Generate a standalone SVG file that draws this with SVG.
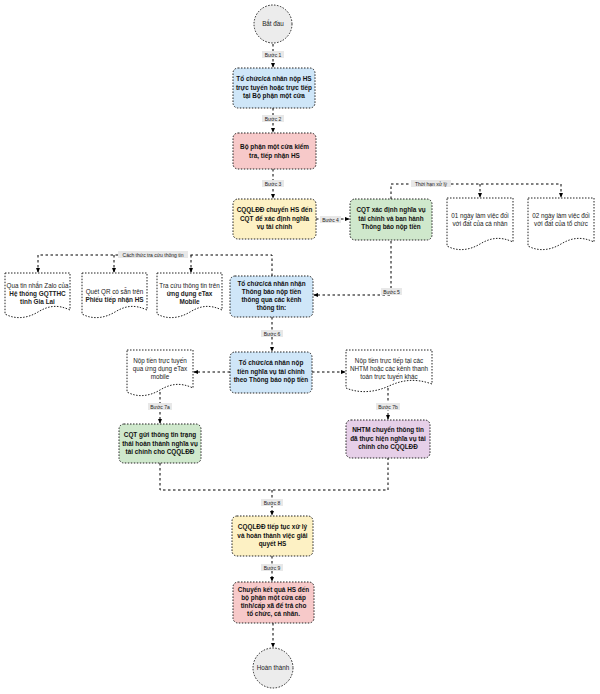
<svg xmlns="http://www.w3.org/2000/svg" width="600" height="694" viewBox="0 0 600 694">
<defs>
<marker id="ah" viewBox="0 0 6 6" refX="5" refY="3" markerWidth="5" markerHeight="5" orient="auto">
<path d="M0,0.5 L6,3 L0,5.5 Z" fill="#000"/>
</marker>
<style>
.bx{stroke:#222;stroke-width:1;stroke-dasharray:1.5,1.5}
.blue{fill:#cfe6f8}.pink{fill:#f7c9c9}.yellow{fill:#fdf1c4}.green{fill:#cfe8cc}.purple{fill:#e6cfe8}.grey{fill:#ececec}
.doc{fill:#fff;stroke:#222;stroke-width:1;stroke-dasharray:1.5,1.5}
.t{font-family:"Liberation Sans",Arial,sans-serif;font-size:6.4px;font-weight:bold;text-anchor:middle;fill:#111}
.d{font-family:"Liberation Sans",Arial,sans-serif;font-size:6.3px;text-anchor:middle;fill:#222}
.db{font-weight:bold;font-size:6.4px}
.c{fill:none;stroke:#000;stroke-width:1;stroke-dasharray:2.5,2.5}
.a{marker-end:url(#ah)}
.lb{fill:#e8e8e8}
.l{font-family:"Liberation Sans",Arial,sans-serif;font-size:5px;text-anchor:middle;fill:#222}
</style>
</defs>
<rect width="600" height="694" fill="#fff"/>

<g id="connectors">
<path class="c a" d="M273,44 V67"/>
<path class="c a" d="M273,108 V132"/>
<path class="c a" d="M273,169 V198"/>
<path class="c a" d="M316,219 H349"/>
<path class="c" d="M391,199 V184 H561"/>
<path class="c a" d="M561,184 V197"/>
<path class="c a" d="M480,184 V197"/>
<path class="c a" d="M391,241 V295 H314"/>
<path class="c" d="M272,276 V255 H38"/>
<path class="c a" d="M38,255 V272"/>
<path class="c a" d="M114,255 V272"/>
<path class="c a" d="M191,255 V272"/>
<path class="c a" d="M272,317 V351"/>
<path class="c a" d="M230,372 H194"/>
<path class="c a" d="M312,372 H345"/>
<path class="c a" d="M160,392 V423"/>
<path class="c a" d="M388,388 V419"/>
<path class="c" d="M160,463 V490 H388 V458"/>
<path class="c a" d="M272,490 V515"/>
<path class="c a" d="M272,556 V581"/>
<path class="c a" d="M273,623 V647"/>
<g id="labels">
<rect class="lb" x="262" y="51" width="22" height="7"/><text class="l" x="273" y="56.5">Bước 1</text>
<rect class="lb" x="262" y="115" width="22" height="7"/><text class="l" x="273" y="120.5">Bước 2</text>
<rect class="lb" x="262" y="180" width="22" height="7"/><text class="l" x="273" y="185.5">Bước 3</text>
<rect class="lb" x="320" y="216" width="21" height="7"/><text class="l" x="330.5" y="221.5">Bước 4</text>
<rect class="lb" x="411" y="180" width="40" height="7"/><text class="l" x="431" y="185.5">Thời hạn xử lý</text>
<rect class="lb" x="381" y="288" width="21" height="7"/><text class="l" x="391.5" y="293.5">Bước 5</text>
<rect class="lb" x="118" y="251" width="70" height="7"/><text class="l" x="153" y="256.5">Cách thức tra cứu thông tin</text>
<rect class="lb" x="261" y="330" width="22" height="7"/><text class="l" x="272" y="335.5">Bước 6</text>
<rect class="lb" x="148" y="403" width="24" height="7"/><text class="l" x="160" y="408.5">Bước 7a</text>
<rect class="lb" x="376" y="403" width="24" height="7"/><text class="l" x="388" y="408.5">Bước 7b</text>
<rect class="lb" x="261" y="499" width="22" height="7"/><text class="l" x="272" y="504.5">Bước 8</text>
<rect class="lb" x="261" y="564" width="22" height="7"/><text class="l" x="272" y="569.5">Bước 9</text>
</g>
</g>

<g id="start">
<circle class="bx grey" cx="273" cy="24" r="19"/>
<text class="d" x="273" y="26">Bắt đầu</text>
</g>
<g id="step1">
<rect class="bx blue" x="233" y="68" width="82" height="40" rx="5"/>
<text class="t" x="274" y="81">Tổ chức/cá nhân nộp HS</text>
<text class="t" x="274" y="89.5">trực tuyến hoặc trực tiếp</text>
<text class="t" x="274" y="98">tại Bộ phận một cửa</text>
</g>
<g id="step2">
<rect class="bx pink" x="233" y="133" width="83" height="36" rx="5"/>
<text class="t" x="274.5" y="149">Bộ phận một cửa kiểm</text>
<text class="t" x="274.5" y="157.5">tra, tiếp nhận HS</text>
</g>
<g id="step3">
<rect class="bx yellow" x="233" y="199" width="83" height="40" rx="5"/>
<text class="t" x="274.5" y="212">CQQLĐĐ chuyển HS đến</text>
<text class="t" x="274.5" y="220.5">CQT để xác định nghĩa</text>
<text class="t" x="274.5" y="229">vụ tài chính</text>
</g>
<g id="step4">
<rect class="bx green" x="350" y="199" width="82" height="41" rx="5"/>
<text class="t" x="391" y="212">CQT xác định nghĩa vụ</text>
<text class="t" x="391" y="220.5">tài chính và ban hành</text>
<text class="t" x="391" y="229">Thông báo nộp tiền</text>
</g>
<g id="deadline1">
<path class="doc" d="M447,198 H513 V242 C500,236 490,238 480,244 C470,250 458,252 447,246 Z"/>
<text class="d" x="480" y="218">01 ngày làm việc đối</text>
<text class="d" x="480" y="226">với đất của cá nhân</text>
</g>
<g id="deadline2">
<path class="doc" d="M528,198 H594 V242 C581,236 571,238 561,244 C551,250 539,252 528,246 Z"/>
<text class="d" x="561" y="218">02 ngày làm việc đối</text>
<text class="d" x="561" y="226">với đất của tổ chức</text>
</g>
<g id="step5">
<rect class="bx blue" x="230" y="276" width="83" height="41" rx="5"/>
<text class="t" x="271.5" y="286">Tổ chức/cá nhân nhận</text>
<text class="t" x="271.5" y="294">Thông báo nộp tiền</text>
<text class="t" x="271.5" y="302">thông qua các kênh</text>
<text class="t" x="271.5" y="310">thông tin:</text>
</g>
<g id="lookup1">
<path class="doc" d="M5,273 H70 V310 C57,304 48,306 38,312 C28,318 16,320 5,314 Z"/>
<text class="d" x="37.5" y="288">Qua tin nhắn Zalo của</text>
<text class="d db" x="37.5" y="296">Hệ thống GQTTHC</text>
<text class="d db" x="37.5" y="304">tỉnh Gia Lai</text>
</g>
<g id="lookup2">
<path class="doc" d="M82,273 H147 V310 C134,304 125,306 115,312 C105,318 93,320 82,314 Z"/>
<text class="d" x="114.5" y="294">Quét QR có sẵn trên</text>
<text class="d db" x="114.5" y="302">Phiếu tiếp nhận HS</text>
</g>
<g id="lookup3">
<path class="doc" d="M157,273 H222 V310 C209,304 200,306 190,312 C180,318 168,320 157,314 Z"/>
<text class="d" x="189.5" y="288">Tra cứu thông tin trên</text>
<text class="d db" x="189.5" y="296">ứng dụng eTax</text>
<text class="d db" x="189.5" y="304">Mobile</text>
</g>
<g id="step6">
<rect class="bx blue" x="230" y="352" width="82" height="41" rx="5"/>
<text class="t" x="271" y="365">Tổ chức/cá nhân nộp</text>
<text class="t" x="271" y="373.5">tiền nghĩa vụ tài chính</text>
<text class="t" x="271" y="382">theo Thông báo nộp tiền</text>
</g>
<g id="payOnline">
<path class="doc" d="M127,350 H193 V388 C180,382 170,384 160,390 C150,396 138,398 127,392 Z"/>
<text class="d" x="160" y="363">Nộp tiền trực tuyến</text>
<text class="d" x="160" y="371">qua ứng dụng eTax</text>
<text class="d" x="160" y="379">mobile</text>
</g>
<g id="payBank">
<path class="doc" d="M346,350 H432 V384 C415,378 402,380 389,386 C376,392 360,394 346,388 Z"/>
<text class="d" x="389" y="363">Nộp tiền trực tiếp tại các</text>
<text class="d" x="389" y="371">NHTM hoặc các kênh thanh</text>
<text class="d" x="389" y="379">toán trực tuyến khác</text>
</g>
<g id="step7a">
<rect class="bx green" x="119" y="424" width="82" height="39" rx="5"/>
<text class="t" x="160" y="437">CQT gửi thông tin trạng</text>
<text class="t" x="160" y="445.5">thái hoàn thành nghĩa vụ</text>
<text class="t" x="160" y="454">tài chính cho CQQLĐĐ</text>
</g>
<g id="step7b">
<rect class="bx purple" x="346" y="420" width="84" height="38" rx="5"/>
<text class="t" x="388" y="432">NHTM chuyển thông tin</text>
<text class="t" x="388" y="440.5">đã thực hiện nghĩa vụ tài</text>
<text class="t" x="388" y="449">chính cho CQQLĐĐ</text>
</g>
<g id="step8">
<rect class="bx yellow" x="232" y="516" width="81" height="40" rx="5"/>
<text class="t" x="272.5" y="529">CQQLĐĐ tiếp tục xử lý</text>
<text class="t" x="272.5" y="537.5">và hoàn thành việc giải</text>
<text class="t" x="272.5" y="546">quyết HS</text>
</g>
<g id="step9">
<rect class="bx pink" x="233" y="582" width="81" height="41" rx="5"/>
<text class="t" x="273.5" y="592">Chuyển kết quả HS đến</text>
<text class="t" x="273.5" y="600">bộ phận một cửa cấp</text>
<text class="t" x="273.5" y="608">tỉnh/cấp xã để trả cho</text>
<text class="t" x="273.5" y="616">tổ chức, cá nhân.</text>
</g>
<g id="end">
<circle class="bx grey" cx="273" cy="668" r="20"/>
<text class="d" x="273" y="670">Hoàn thành</text>
</g>
</svg>
